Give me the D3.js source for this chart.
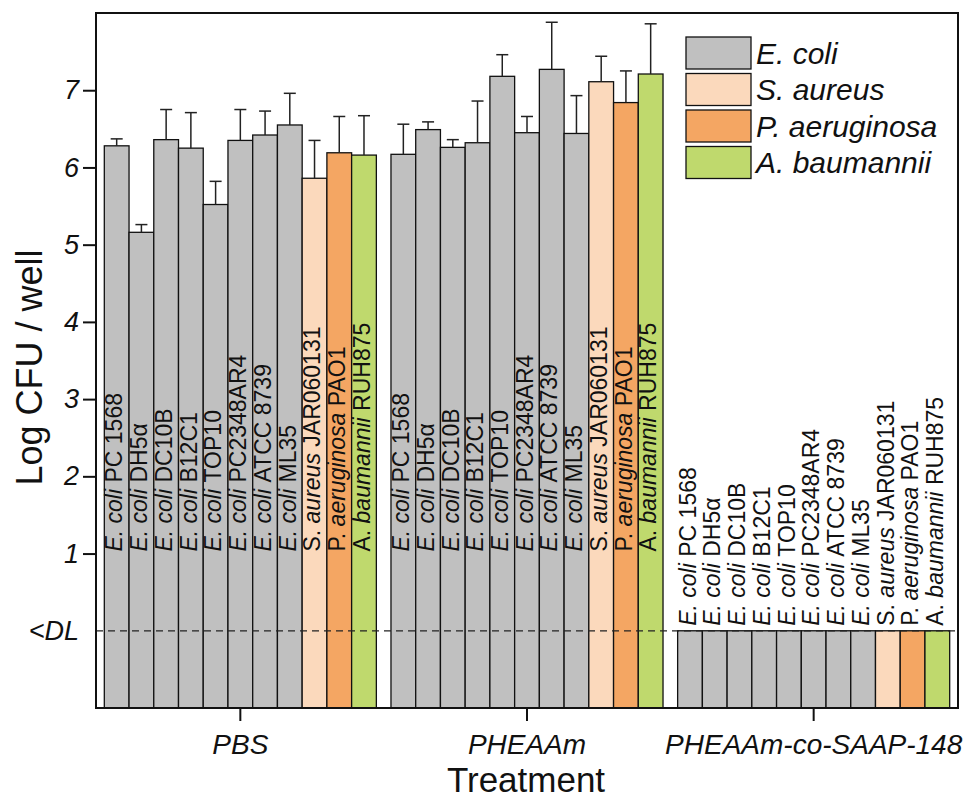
<!DOCTYPE html>
<html>
<head>
<meta charset="utf-8">
<script src="https://cdn.jsdelivr.net/npm/d3@7"></script>
<style>
  body { margin: 0; background: #fff; }
  svg { font-family: Arial, "Liberation Sans", sans-serif; }
</style>
</head>
<body>
<div id="chart-area"></div>
<script>
// Data
var groups = ["PBS", "PHEAAm", "PHEAAm-co-SAAP-148"];
var genus = ["E.", "E.", "E.", "E.", "E.", "E.", "E.", "E.", "S.", "P.", "A."];
var species = ["coli", "coli", "coli", "coli", "coli", "coli", "coli", "coli", "aureus", "aeruginosa", "baumannii"];
var strains = ["PC 1568", "DH5α", "DC10B", "B12C1", "TOP10", "PC2348AR4", "ATCC 8739", "ML35", "JAR060131", "PAO1", "RUH875"];

var pbsMean = [6.28, 5.16, 6.36, 6.25, 5.52, 6.35, 6.42, 6.55, 5.86, 6.19, 6.16];
var pbsErr = [0.09, 0.10, 0.39, 0.46, 0.30, 0.40, 0.31, 0.41, 0.49, 0.47, 0.51];
var pheaamMean = [6.17, 6.49, 6.26, 6.32, 7.18, 6.45, 7.27, 6.44, 7.11, 6.84, 7.21];
var pheaamErr = [0.39, 0.10, 0.10, 0.54, 0.28, 0.21, 0.61, 0.49, 0.33, 0.41, 0.65];
var saapMean = [0, 0, 0, 0, 0, 0, 0, 0, 0, 0, 0];   // all below detection limit
var saapErr = [0, 0, 0, 0, 0, 0, 0, 0, 0, 0, 0];

var legendNames = ["E. coli", "S. aureus", "P. aeruginosa", "A. baumannii"];
var yTicks = [0, 1, 2, 3, 4, 5, 6, 7];

var colors = {
  "E. coli": "#c0c0c0",
  "S. aureus": "#fbd9bc",
  "P. aeruginosa": "#f4a663",
  "A. baumannii": "#bfd96d"
};

var means = [pbsMean, pheaamMean, saapMean];
var errs = [pbsErr, pheaamErr, saapErr];

var data = [];
groups.forEach(function (g, gi) {
  strains.forEach(function (s, i) {
    data.push({
      group: g,
      idx: i,
      genus: genus[i],
      species: species[i],
      strain: s,
      org: genus[i] + " " + species[i],
      value: means[gi][i],
      err: errs[gi][i]
    });
  });
});

// Layout
var W = 970, H = 800;
var pLeft = 96, pRight = 958, pTop = 13, pBottom = 708;

var svg = d3.select("#chart-area").append("svg")
  .attr("width", W)
  .attr("height", H);

var x0 = d3.scaleBand()
  .domain(groups)
  .range([pLeft, pRight])
  .paddingInner(0.051)
  .paddingOuter(0.029);

var x1 = d3.scaleBand()
  .domain(d3.range(strains.length))
  .range([0, x0.bandwidth()])
  .padding(0);

var y = d3.scaleLinear()
  .domain([-1, 8])
  .range([pBottom, pTop]);

function cx(d) { return x0(d.group) + x1(d.idx) + x1.bandwidth() / 2; }

// Bars
var bars = svg.append("g");
bars.selectAll("rect")
  .data(data)
  .enter()
  .append("rect")
    .attr("x", function (d) { return x0(d.group) + x1(d.idx); })
    .attr("y", function (d) { return y(d.value); })
    .attr("width", x1.bandwidth())
    .attr("height", function (d) { return y(-1) - y(d.value); })
    .attr("fill", function (d) { return colors[d.org]; })
    .attr("stroke", "#111")
    .attr("stroke-width", 1.3);

// Error bars (upper only)
var eb = svg.append("g")
  .attr("stroke", "#222")
  .attr("stroke-width", 1.5);
var withErr = data.filter(function (d) { return d.err > 0; });
eb.selectAll("line.v")
  .data(withErr)
  .enter()
  .append("line")
    .attr("class", "v")
    .attr("x1", cx)
    .attr("x2", cx)
    .attr("y1", function (d) { return y(d.value); })
    .attr("y2", function (d) { return y(d.value + d.err); });
eb.selectAll("line.cap")
  .data(withErr)
  .enter()
  .append("line")
    .attr("class", "cap")
    .attr("x1", function (d) { return cx(d) - 6; })
    .attr("x2", function (d) { return cx(d) + 6; })
    .attr("y1", function (d) { return y(d.value + d.err); })
    .attr("y2", function (d) { return y(d.value + d.err); });

// Detection limit line
svg.append("line")
  .attr("x1", pLeft)
  .attr("x2", pRight)
  .attr("y1", y(0))
  .attr("y2", y(0))
  .attr("stroke", "#222")
  .attr("stroke-width", 1.3)
  .attr("stroke-dasharray", "7,5");

// Bar labels
var labels = svg.append("g")
  .attr("font-size", "23px")
  .attr("fill", "#111");
var lab = labels.selectAll("text")
  .data(data)
  .enter()
  .append("text")
    .attr("transform", function (d) {
      var py = d.value > 0 ? y(1) - 2 : y(0) - 5;
      return "translate(" + cx(d) + "," + py + ") rotate(-90)";
    })
    .attr("dy", "0.25em");
lab.append("tspan")
  .attr("font-style", function (d) { return d.genus === "E." ? "italic" : "normal"; })
  .text(function (d) { return d.genus + " "; });
lab.append("tspan")
  .attr("font-style", "italic")
  .text(function (d) { return d.species + " "; });
lab.append("tspan")
  .text(function (d) { return d.strain; });

// Y axis
var yAxis = svg.append("g")
  .attr("transform", "translate(" + pLeft + ",0)")
  .call(d3.axisLeft(y)
    .tickValues(yTicks)
    .tickSize(13)
    .tickPadding(4)
    .tickFormat(function (v) { return v === 0 ? "<DL" : v; }));
yAxis.select(".domain").remove();
yAxis.selectAll(".tick line").attr("stroke", "#111").attr("stroke-width", 2)
  .filter(function (v) { return v === 0; }).remove();
yAxis.selectAll(".tick text")
  .attr("font-size", "27px")
  .attr("font-style", "italic")
  .attr("font-family", "Arial, 'Liberation Sans', sans-serif")
  .attr("fill", "#111");

// X axis
var xAxis = svg.append("g")
  .attr("transform", "translate(0," + pBottom + ")")
  .call(d3.axisBottom(x0).tickSize(13).tickPadding(13));
xAxis.select(".domain").remove();
xAxis.selectAll(".tick line").attr("stroke", "#111").attr("stroke-width", 2);
xAxis.selectAll(".tick text")
  .attr("font-size", "28px")
  .attr("font-style", "italic")
  .attr("font-family", "Arial, 'Liberation Sans', sans-serif")
  .attr("fill", "#111");

// Frame
svg.append("rect")
  .attr("x", pLeft)
  .attr("y", pTop)
  .attr("width", pRight - pLeft)
  .attr("height", pBottom - pTop)
  .attr("fill", "none")
  .attr("stroke", "#111")
  .attr("stroke-width", 2);

// Axis titles
svg.append("text")
  .attr("transform", "translate(42," + ((pTop + pBottom) / 2 + 7) + ") rotate(-90)")
  .attr("text-anchor", "middle")
  .attr("font-size", "36px")
  .attr("fill", "#111")
  .text("Log CFU / well");

svg.append("text")
  .attr("x", (pLeft + pRight) / 2 - 1)
  .attr("y", 792)
  .attr("text-anchor", "middle")
  .attr("font-size", "35px")
  .attr("fill", "#111")
  .text("Treatment");

// Legend
var legend = svg.append("g")
  .attr("transform", "translate(686,37)");
var li = legend.selectAll("g")
  .data(legendNames)
  .enter()
  .append("g")
    .attr("transform", function (d, i) { return "translate(0," + (i * 36.5) + ")"; });
li.append("rect")
  .attr("width", 65)
  .attr("height", 32)
  .attr("fill", function (d) { return colors[d]; })
  .attr("stroke", "#111")
  .attr("stroke-width", 1.3);
li.append("text")
  .attr("x", 70)
  .attr("y", 16)
  .attr("dy", "0.36em")
  .attr("font-size", "30px")
  .attr("font-style", "italic")
  .attr("fill", "#111")
  .text(function (d) { return d; });
</script>
</body>
</html>
